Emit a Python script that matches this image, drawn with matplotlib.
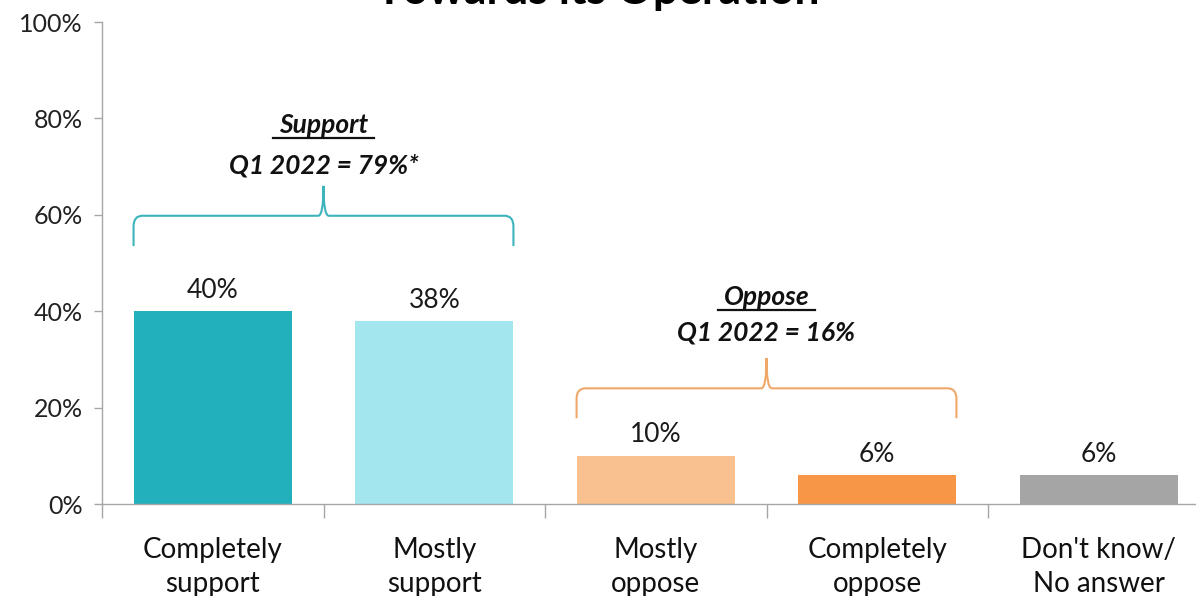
import matplotlib
matplotlib.use("Agg")
import matplotlib.pyplot as plt
from matplotlib.path import Path
from matplotlib.patches import PathPatch

categories = ["Completely\nsupport", "Mostly\nsupport", "Mostly\noppose", "Completely\noppose", "Don't know/\nNo answer"]
values = [40, 38, 10, 6, 6]
colors = ["#23b0bd", "#a3e6ee", "#f9c18f", "#f79646", "#a5a5a5"]
yticks = [0, 20, 40, 60, 80, 100]
ytick_labels = ["0%", "20%", "40%", "60%", "80%", "100%"]
title = "Towards its Operation"
support_label = "Support"
support_text = "Q1 2022 = 79%*"
oppose_label = "Oppose"
oppose_text = "Q1 2022 = 16%"

plt.rcParams['font.family'] = ['Lato', 'DejaVu Sans']

W, H = 1196, 596
fig = plt.figure(figsize=(W / 100, H / 100), dpi=100)
ax = fig.add_axes([102 / W, 92 / H, 1107.5 / W, 482 / H])

x = list(range(len(categories)))
bw = 0.715
ax.bar(x, values, width=bw, color=colors, zorder=2)

for xi, v in zip(x, values):
    ax.annotate(f"{v}%", (xi, v), xytext=(0, 6), textcoords="offset points",
                ha="center", va="bottom", fontsize=19, color="#1a1a1a")

ax.set_xlim(-0.5, len(categories) - 0.5)
ax.set_ylim(0, 100)
ax.set_yticks(yticks)
ax.set_yticklabels(ytick_labels, fontsize=18, color="#222222")
ax.set_xticks([i - 0.5 for i in range(len(categories) + 1)])
ax.set_xticklabels([])
ax.set_xticks(x, minor=True)
ax.set_xticklabels(categories, minor=True, fontsize=20, color="#111111", linespacing=1.36)
ax.tick_params(axis="x", which="minor", length=0, pad=24)
ax.tick_params(axis="x", which="major", length=10, color="#a6a6a6", width=1)
ax.tick_params(axis="y", length=6, color="#a6a6a6", width=1, pad=8)
for s in ["top", "right"]:
    ax.spines[s].set_visible(False)
for s in ["left", "bottom"]:
    ax.spines[s].set_color("#a6a6a6")
    ax.spines[s].set_linewidth(1)


def brace(ax, x0, x1, yh, yb, yt, color):
    xm = (x0 + x1) / 2
    rx = 0.04
    ry = (yh - yb) * 0.35
    verts = [
        (x0, yb), (x0, yh - ry), (x0, yh), (x0 + rx, yh),
        (xm - rx * 0.6, yh), (xm, yh), (xm, yt),
        (xm, yh), (xm + rx * 0.6, yh),
        (x1 - rx, yh), (x1, yh), (x1, yh - ry), (x1, yb),
    ]
    codes = [Path.MOVETO, Path.LINETO, Path.CURVE3, Path.CURVE3,
             Path.LINETO, Path.CURVE3, Path.CURVE3,
             Path.CURVE3, Path.CURVE3,
             Path.LINETO, Path.CURVE3, Path.CURVE3, Path.LINETO]
    ax.add_patch(PathPatch(Path(verts, codes), fill=False, edgecolor=color,
                           linewidth=1.5, clip_on=False, zorder=3))
    return xm


# Support group brace (categories 0-1)
xs = brace(ax, 0 - bw / 2, 1 + bw / 2, 59.8, 53.5, 66.0, "#3cb4bc")
ax.text(xs, 78.6, support_label, ha="center", va="center", fontsize=19,
        fontweight="bold", fontstyle="italic", color="#111111")
ax.plot([xs - 0.226, xs + 0.226], [76.0, 76.0], color="#111111", lw=1.6)
ax.text(xs, 70.3, support_text, ha="center", va="center", fontsize=19,
        fontweight="bold", fontstyle="italic", color="#111111")

# Oppose group brace (categories 2-3)
xo = brace(ax, 2 - bw / 2, 3 + bw / 2, 24.0, 17.8, 30.3, "#f0a868")
ax.text(xo, 42.9, oppose_label, ha="center", va="center", fontsize=19,
        fontweight="bold", fontstyle="italic", color="#111111")
ax.plot([xo - 0.217, xo + 0.217], [40.3, 40.3], color="#111111", lw=1.6)
ax.text(xo, 35.5, oppose_text, ha="center", va="center", fontsize=19,
        fontweight="bold", fontstyle="italic", color="#111111")

fig.text(0.5, 1 - 4 / H, title, ha="center", va="baseline", fontsize=32,
         fontweight="bold", color="#000000")

fig.savefig("out.png", dpi=100)
